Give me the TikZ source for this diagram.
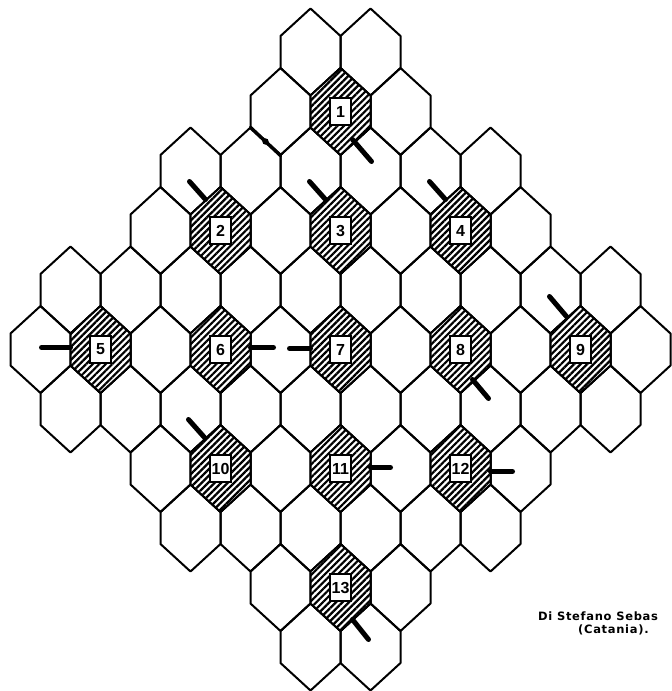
\documentclass[tikz,border=0pt]{standalone}
\usepackage{fontspec}
\setmainfont{Liberation Sans}
\newfontfamily\creditfont[LetterSpace=6]{DejaVu Sans}
\usetikzlibrary{patterns.meta,calc}
\begin{document}
\begin{tikzpicture}[x=1pt,y=-1pt,
  hexline/.style={line width=2pt, line join=round},
  shaded/.style={pattern={Lines[angle=45,distance=4.6pt,line width=2.2pt]}},
  numbox/.style={draw, fill=white, line width=1.4pt, minimum width=21pt, minimum height=27pt, inner sep=0pt, font=\bfseries\fontsize{16}{16}\selectfont},
  bar/.style={line width=5pt, line cap=round},
  credit/.style={font=\creditfont\bfseries\fontsize{11.5}{12}\selectfont, inner sep=0pt},
  hex/.pic={\draw[hexline] (0,-43.5) -- (30,-16) -- (30,16) -- (0,43.5) -- (-30,16) -- (-30,-16) -- cycle;},
  shex/.pic={\fill[white] (0,-43.5) -- (30,-16) -- (30,16) -- (0,43.5) -- (-30,16) -- (-30,-16) -- cycle;
             \fill[shaded] (0,-43.5) -- (30,-16) -- (30,16) -- (0,43.5) -- (-30,16) -- (-30,-16) -- cycle;
             \draw[hexline] (0,-43.5) -- (30,-16) -- (30,16) -- (0,43.5) -- (-30,16) -- (-30,-16) -- cycle;}]
\useasboundingbox (0,0) rectangle (672,691);
% board
\foreach \r/\kmin/\kmax in {0/-1/1, 1/-2/2, 2/-5/5, 3/-6/6, 4/-9/9, 5/-10/10, 6/-9/9, 7/-6/6, 8/-5/5, 9/-2/2, 10/-1/1} {
  \pgfmathtruncatemacro\kn{\kmin+2}
  \foreach \k in {\kmin,\kn,...,\kmax} {
    \pic at ({340.5+30*(\k)},{52+59.5*(\r)}) {hex};
  }
}
% shaded hexes
\coordinate (h1) at (340.5,111.5);
\coordinate (h2) at (220.5,230.5);
\coordinate (h3) at (340.5,230.5);
\coordinate (h4) at (460.5,230.5);
\coordinate (h5) at (100.5,349.5);
\coordinate (h6) at (220.5,349.5);
\coordinate (h7) at (340.5,349.5);
\coordinate (h8) at (460.5,349.5);
\coordinate (h9) at (580.5,349.5);
\coordinate (h10) at (220.5,468.5);
\coordinate (h11) at (340.5,468.5);
\coordinate (h12) at (460.5,468.5);
\coordinate (h13) at (340.5,587.5);
\foreach \i in {1,...,13} {
  \pic at (h\i) {shex};
  \node[numbox] (n\i) at (h\i) {\i};
}
% bars
\draw[bar] (h1) ++(12,28) -- ++(19,22);
\draw[bar] (h2) ++(-15,-31) -- ++(-16,-18);
\draw[bar] (h3) ++(-15,-31) -- ++(-16,-18);
\draw[bar] (h4) ++(-15,-31) -- ++(-16,-18);
\draw[bar] (h5) ++(-30,-2) -- ++(-29,0);
\draw[bar] (h6) ++(30,-2) -- ++(23,0);
\draw[bar] (h7) ++(-30,-1) -- ++(-21,0);
\draw[bar] (h8) ++(12,30) -- ++(16,19);
\draw[bar] (h9) ++(-14,-33) -- ++(-17,-20);
\draw[bar] (h10) ++(-16,-31) -- ++(-16,-18);
\draw[bar] (h11) ++(30,-1) -- ++(20,0);
\draw[bar] (h12) ++(30,3) -- ++(22,0);
\draw[bar] (h13) ++(12,32) -- ++(16,20);
% thickened edge mark
\coordinate (e1) at (250.5,127.5);
\coordinate (e2) at (280.5,155.5);
\draw[line width=3.5pt, line cap=round] (e1) -- (e2);
\fill ($(e1)!0.5!(e2)$) circle (3.2pt);
% credit
\node[credit, anchor=base west] (c1) at (538,620) {Di Stefano Sebas};
\node[credit, anchor=base west] (c2) at (578,633) {(Catania).};
\end{tikzpicture}
\end{document}
